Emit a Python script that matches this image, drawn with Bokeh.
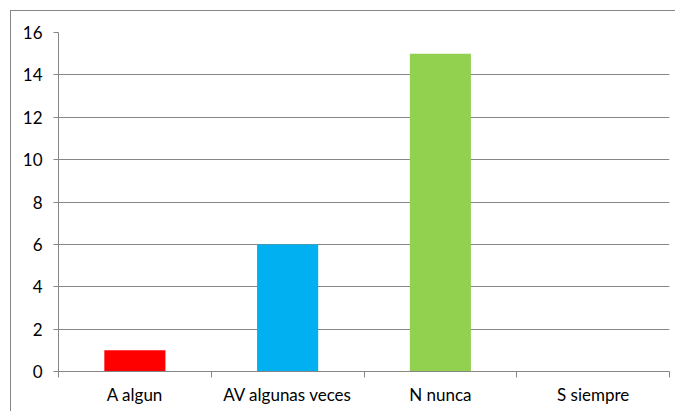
from bokeh.plotting import figure
from bokeh.models import Range1d, LinearAxis, FixedTicker, ColumnDataSource
from bokeh.embed import file_html
from bokeh.resources import INLINE

categories = ["A algun", "AV algunas veces", "N nunca", "S siempre"]
values = [1, 6, 15, 0]
bar_colors = ["#FF0000", "#00B0F0", "#92D050", "#FFC000"]
y_ticks = [0, 2, 4, 6, 8, 10, 12, 14, 16]

GRAY = "#868686"
FONT = "Lato"
FSIZE = "17px"

n = len(categories)
centers = [i + 0.5 for i in range(n)]
boundaries = list(range(n + 1))

p = figure(x_range=Range1d(0, n), y_range=Range1d(0, 16), width=665, height=401,
           output_backend="svg", toolbar_location=None, x_axis_location=None,
           min_border_left=47, min_border_right=7, min_border_top=21,
           min_border_bottom=41)
p.margin = (10, 0, 0, 10)
p.styles = {"border-left": "1px solid #868686", "border-top": "1px solid #868686"}
p.outline_line_color = None
p.background_fill_color = "white"
p.border_fill_color = "white"

src = ColumnDataSource(dict(x=centers, val=values, color=bar_colors))
p.vbar(x="x", top="val", width=0.4, fill_color="color", line_color=None, source=src)

# y axis
p.yaxis.ticker = FixedTicker(ticks=y_ticks)
p.yaxis.major_tick_in = 0
p.yaxis.major_tick_out = 5
p.yaxis.minor_tick_line_color = None
p.yaxis.axis_line_color = GRAY
p.yaxis.major_tick_line_color = GRAY
p.yaxis.major_label_text_font = FONT
p.yaxis.major_label_text_font_size = FSIZE
p.yaxis.major_label_text_color = "#000000"
p.yaxis.major_label_standoff = 11

p.ygrid.ticker = FixedTicker(ticks=y_ticks)
p.ygrid.grid_line_color = GRAY
p.xgrid.visible = False

# x axis: labels at category centres, tick marks at category boundaries
x_axis = LinearAxis(ticker=FixedTicker(ticks=centers, minor_ticks=boundaries),
                    major_label_overrides={c: lab for c, lab in zip(centers, categories)},
                    axis_line_color=GRAY, major_tick_line_color=None,
                    major_tick_out=0, major_tick_in=0,
                    minor_tick_line_color=GRAY, minor_tick_out=6, minor_tick_in=0,
                    major_label_text_font=FONT, major_label_text_font_size=FSIZE,
                    major_label_text_color="#000000", major_label_standoff=6)
p.add_layout(x_axis, "below")

open("out.html", "w").write(file_html(p, INLINE))
